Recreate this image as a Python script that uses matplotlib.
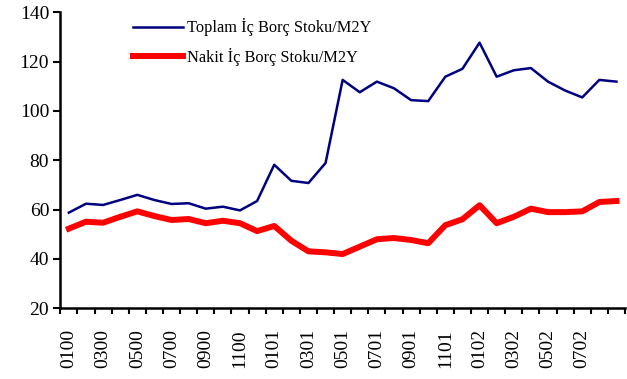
import numpy as np
import matplotlib.pyplot as plt

plt.rcParams['font.family'] = ['Liberation Serif', 'DejaVu Serif']

# monthly ratios, 01/2000 - 09/2002
donem = ['0100', '0200', '0300', '0400', '0500', '0600', '0700', '0800', '0900', '1000', '1100', '1200',
         '0101', '0201', '0301', '0401', '0501', '0601', '0701', '0801', '0901', '1001', '1101', '1201',
         '0102', '0202', '0302', '0402', '0502', '0602', '0702', '0802', '0902']
toplam = [58.8, 62.4, 61.9, 63.9, 66.0, 63.9, 62.3, 62.6, 60.4, 61.2, 59.7, 63.5,
          78.2, 71.7, 70.8, 78.9, 112.6, 107.6, 111.9, 109.2, 104.4, 104.0, 113.9, 117.1,
          127.7, 113.9, 116.5, 117.4, 111.9, 108.3, 105.5, 112.6, 111.9]
nakit = [52.3, 55.1, 54.7, 57.1, 59.3, 57.4, 55.8, 56.2, 54.5, 55.5, 54.5, 51.3,
         53.4, 47.4, 43.1, 42.7, 42.0, 45.0, 48.0, 48.5, 47.7, 46.4, 53.7, 56.1,
         61.8, 54.5, 57.1, 60.4, 59.0, 59.0, 59.3, 63.1, 63.5]

x = np.arange(len(donem))

fig = plt.figure(figsize=(6.27, 3.79), dpi=100)
ax = fig.add_axes([0.0962, 0.1865, 0.9006, 0.781])

ax.plot(x, toplam, color='#000080', lw=1.8, label='Toplam İç Borç Stoku/M2Y')
ax.plot(x, nakit, color='#ff0000', lw=4.3, label='Nakit İç Borç Stoku/M2Y')

ax.set_xlim(-0.5, len(donem) - 0.5)
ax.set_ylim(20, 140)
ax.set_yticks(range(20, 141, 20))

# ticks on category borders, labels on every second category
ax.set_xticks(np.arange(-0.5, len(donem), 1))
ax.set_xticklabels([])
lbl_idx = list(range(0, 31, 2))
ax.set_xticks(lbl_idx, minor=True)
ax.set_xticklabels([donem[i] for i in lbl_idx], minor=True, rotation=90, fontsize=14)
ax.tick_params(axis='x', which='major', direction='out', length=4, width=1.5)
ax.tick_params(axis='x', which='minor', length=0, pad=15)
ax.tick_params(axis='y', direction='out', length=5, width=1.5, labelsize=14, pad=3)

for s in ['top', 'right']:
    ax.spines[s].set_visible(False)
for s in ['left', 'bottom']:
    ax.spines[s].set_linewidth(1.8)

ax.legend(loc='upper left', bbox_to_anchor=(0.1287, 0.98), frameon=False, fontsize=11.8,
          borderpad=0, borderaxespad=0, handlelength=3.05, handletextpad=0.25,
          labelspacing=0.7)

fig.savefig('out.png', dpi=100)
